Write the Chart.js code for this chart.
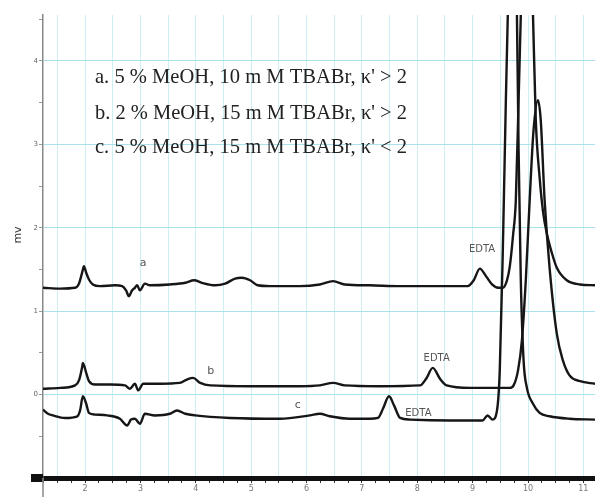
<!DOCTYPE html>
<html>
<head>
<meta charset="utf-8">
<script src="https://cdn.jsdelivr.net/npm/chart.js@4.4.1/dist/chart.umd.min.js"></script>
<style>
  html, body { margin: 0; padding: 0; background: #fff; }
</style>
</head>
<body>
<canvas id="myChart" width="595" height="497"></canvas>
<script>
// retention time (min) / signal (mV)
const timeA = [1.24, 1.55, 1.82, 1.89, 1.95, 1.98, 2.02, 2.07, 2.14, 2.27, 2.54, 2.67, 2.74, 2.79, 2.85, 2.90, 2.94, 2.99, 3.08, 3.17,
  3.53, 3.81, 3.97, 4.11, 4.35, 4.53, 4.71, 4.83, 4.98, 5.12, 5.34, 5.88, 6.24, 6.48, 6.69, 7.14, 7.69, 8.41, 8.91, 9.02,
  9.13, 9.24, 9.35, 9.46, 9.545, 9.62, 9.67, 9.73, 9.78, 9.83, 9.87, 9.97, 10.09, 10.14, 10.21, 10.27, 10.34, 10.43, 10.52, 10.70,
  10.94, 11.21];
const mvA = [1.28, 1.27, 1.28, 1.33, 1.47, 1.54, 1.46, 1.38, 1.32, 1.30, 1.31, 1.30, 1.25, 1.18, 1.25, 1.28, 1.31, 1.25, 1.33, 1.31,
  1.32, 1.34, 1.37, 1.34, 1.31, 1.33, 1.39, 1.40, 1.37, 1.31, 1.30, 1.30, 1.32, 1.36, 1.32, 1.31, 1.30, 1.30, 1.30, 1.37,
  1.51, 1.42, 1.32, 1.28, 1.28, 1.37, 1.53, 1.91, 2.33, 3.53, 4.55, 7.0, 4.55, 3.30, 2.60, 2.20, 1.93, 1.70, 1.52, 1.37,
  1.32, 1.31];

const timeB = [1.24, 1.55, 1.82, 1.89, 1.95, 1.96, 2.02, 2.07, 2.18, 2.45, 2.72, 2.81, 2.90, 2.96, 3.05, 3.35, 3.71, 3.84, 3.95, 4.08,
  4.26, 4.98, 5.88, 6.24, 6.48, 6.69, 7.32, 8.05, 8.16, 8.28, 8.41, 8.53, 8.95, 9.49, 9.67, 9.74, 9.82, 9.89, 9.96, 10.03,
  10.10, 10.18, 10.23, 10.30, 10.39, 10.52, 10.63, 10.75, 10.94, 11.21];
const mvB = [0.07, 0.08, 0.11, 0.17, 0.34, 0.38, 0.26, 0.16, 0.12, 0.12, 0.11, 0.07, 0.13, 0.05, 0.13, 0.13, 0.14, 0.18, 0.20, 0.14,
  0.11, 0.10, 0.10, 0.11, 0.14, 0.11, 0.10, 0.11, 0.19, 0.32, 0.19, 0.11, 0.08, 0.08, 0.08, 0.11, 0.29, 0.65, 1.37, 2.33,
  3.17, 3.53, 3.29, 2.33, 1.52, 0.73, 0.41, 0.23, 0.16, 0.13];

const timeC = [1.24, 1.33, 1.42, 1.64, 1.86, 1.91, 1.96, 2.02, 2.07, 2.18, 2.40, 2.63, 2.76, 2.83, 2.90, 2.99, 3.08, 3.26, 3.53, 3.66,
  3.81, 3.99, 4.62, 5.52, 6.06, 6.24, 6.42, 6.78, 7.14, 7.29, 7.38, 7.49, 7.58, 7.69, 7.87, 8.59, 9.18, 9.27, 9.36, 9.44,
  9.49, 9.545, 9.60, 9.635, 9.71, 9.80, 9.83, 9.87, 9.92, 9.98, 10.09, 10.21, 10.39, 10.75, 11.21];
const mvC = [-0.18, -0.23, -0.25, -0.28, -0.26, -0.19, -0.02, -0.11, -0.22, -0.24, -0.25, -0.29, -0.37, -0.30, -0.29, -0.35, -0.23, -0.25, -0.23, -0.19,
  -0.23, -0.25, -0.28, -0.29, -0.25, -0.23, -0.26, -0.29, -0.29, -0.28, -0.17, -0.02, -0.13, -0.28, -0.30, -0.31, -0.31, -0.25, -0.30, -0.19,
  0.29, 1.73, 3.53, 4.55, 6.5, 4.55, 2.93, 1.37, 0.41, 0.08, -0.11, -0.22, -0.26, -0.29, -0.30];

const conditions = [
  "a. 5 % MeOH, 10 m M TBABr, κ' > 2",
  "b. 2 % MeOH, 15 m M TBABr, κ' > 2",
  "c. 5 % MeOH, 15 m M TBABr, κ' < 2"
];
const traceNames = ['a', 'b', 'c'];

const toPoints = (xs, ys) => xs.map((x, i) => ({ x: x, y: ys[i] }));

const traceStyle = {
  borderColor: '#161616',
  borderWidth: 2.4,
  pointRadius: 0,
  showLine: true,
  fill: false,
  cubicInterpolationMode: 'monotone'
};

// text written on the plot: condition list, trace letters, EDTA marks
const notes = {
  id: 'notes',
  afterDraw(chart) {
    const c = chart.ctx;
    const x = chart.scales.x, y = chart.scales.y;
    c.save();

    c.fillStyle = '#222';
    c.font = '21px "Liberation Serif"';
    c.textBaseline = 'middle';
    c.textAlign = 'left';
    [77, 113, 147].forEach((py, i) => c.fillText(conditions[i], 95, py, 312));

    c.fillStyle = '#555';
    c.font = '11px "DejaVu Sans"';
    c.textAlign = 'center';
    const letterAt = [[3.05, 1.58], [4.27, 0.28], [5.84, -0.13]];
    letterAt.forEach((p, i) => c.fillText(traceNames[i], x.getPixelForValue(p[0]), y.getPixelForValue(p[1])));

    c.font = '10px "DejaVu Sans"';
    const edtaAt = [[9.17, 1.74], [8.35, 0.43], [8.02, -0.22]];
    edtaAt.forEach(p => c.fillText('EDTA', x.getPixelForValue(p[0]), y.getPixelForValue(p[1])));

    // y title
    c.fillStyle = '#333';
    c.font = '11px "DejaVu Sans"';
    c.translate(18, 235);
    c.rotate(-Math.PI / 2);
    c.fillText('mv', 0, 0);
    c.restore();

    // stub of the base line left of the axis, axis line running on below
    c.save();
    c.fillStyle = '#111';
    c.fillRect(31, chart.chartArea.bottom - 4, 12, 8);
    c.strokeStyle = '#888';
    c.lineWidth = 1.5;
    c.beginPath();
    c.moveTo(chart.chartArea.left, chart.chartArea.bottom);
    c.lineTo(chart.chartArea.left, 497);
    c.stroke();
    c.restore();
  }
};

const ctx = document.getElementById('myChart').getContext('2d');
new Chart(ctx, {
  type: 'scatter',
  data: {
    datasets: [
      { label: 'a', data: toPoints(timeA, mvA), ...traceStyle },
      { label: 'b', data: toPoints(timeB, mvB), ...traceStyle },
      { label: 'c', data: toPoints(timeC, mvC), ...traceStyle }
    ]
  },
  options: {
    responsive: false,
    animation: false,
    layout: { padding: { top: 15, left: 0, right: 0, bottom: 0 } },
    plugins: { legend: { display: false }, tooltip: { enabled: false } },
    scales: {
      x: {
        type: 'linear',
        min: 1.24,
        max: 11.21,
        ticks: {
          stepSize: 0.25,
          includeBounds: false,
          autoSkip: false,
          maxRotation: 0,
          padding: 1,
          color: '#777',
          font: { size: 8, family: 'DejaVu Sans' },
          callback: v => Number.isInteger(v) ? String(v) : ''
        },
        grid: {
          color: c => (c.tick && c.tick.value % 0.5 === 0) ? '#cdeef4' : 'rgba(0,0,0,0)',
          lineWidth: 1,
          tickColor: '#333',
          tickLength: 5
        },
        border: { color: '#111', width: 5 },
        afterFit: s => { s.height = 19; }
      },
      y: {
        min: -1,
        max: 4.55,
        ticks: {
          stepSize: 0.5,
          includeBounds: false,
          autoSkip: false,
          padding: 1,
          color: '#666',
          font: { size: 7, family: 'DejaVu Sans' },
          callback: v => (Number.isInteger(v) && v >= 0) ? String(v) : ''
        },
        grid: {
          color: c => (c.tick && Number.isInteger(c.tick.value) && c.tick.value >= 0) ? '#a9e2ea' : 'rgba(0,0,0,0)',
          lineWidth: 1,
          tickColor: '#999',
          tickLength: 4
        },
        border: { color: '#888', width: 1.5 },
        afterFit: s => { s.width = 43; }
      }
    }
  },
  plugins: [notes]
});
</script>
</body>
</html>
